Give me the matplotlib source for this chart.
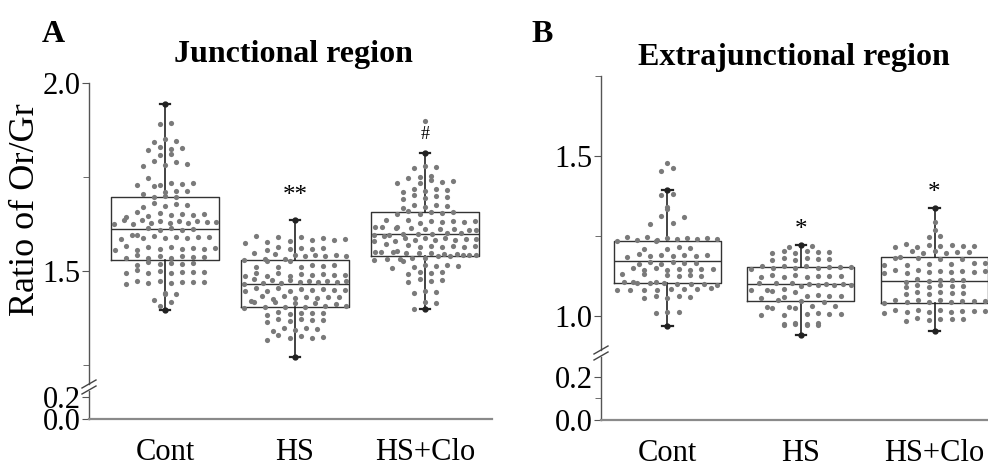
import numpy as np
import matplotlib
matplotlib.use("Agg")
import matplotlib.pyplot as plt
from matplotlib.lines import Line2D

plt.rcParams['font.family'] = ['Liberation Serif', 'DejaVu Serif']

groups = ["Cont", "HS", "HS+Clo"]

# Panel A - junctional region
a_cont = [1.943, 1.893, 1.890, 1.852, 1.846, 1.842, 1.830, 1.827, 1.825, 1.822,
          1.812, 1.808, 1.792, 1.789, 1.786, 1.783, 1.780, 1.748,
          1.735, 1.732, 1.730, 1.728, 1.726, 1.733, 1.712, 1.709, 1.706, 1.714,
          1.700, 1.698, 1.697, 1.680, 1.676, 1.672, 1.678, 1.670,
          1.655, 1.652, 1.648, 1.645, 1.658, 1.650, 1.646, 1.653,
          1.635, 1.632, 1.630, 1.628, 1.634, 1.626, 1.631, 1.629, 1.636, 1.627, 1.633, 1.625,
          1.615, 1.612, 1.610, 1.608, 1.614,
          1.595, 1.590, 1.588, 1.592, 1.585, 1.597, 1.593, 1.587, 1.591, 1.589,
          1.565, 1.560, 1.558, 1.562, 1.556, 1.563, 1.559, 1.566, 1.557, 1.561,
          1.540, 1.537, 1.535, 1.538, 1.542, 1.534, 1.539, 1.536,
          1.522, 1.518, 1.520, 1.524, 1.517, 1.521,
          1.500, 1.497, 1.495, 1.498, 1.502, 1.494, 1.499, 1.496,
          1.472, 1.470, 1.468, 1.474, 1.466, 1.471, 1.469, 1.473,
          1.442, 1.440, 1.438, 1.422, 1.418, 1.408, 1.396]
a_hs = [1.636, 1.592, 1.590, 1.588, 1.594, 1.586, 1.580, 1.578, 1.582, 1.576, 1.584,
        1.562, 1.560, 1.558, 1.564, 1.556, 1.561,
        1.545, 1.543, 1.541, 1.547, 1.539, 1.544, 1.542, 1.540,
        1.530, 1.528, 1.532, 1.527, 1.531,
        1.515, 1.512, 1.510, 1.516, 1.511, 1.513,
        1.492, 1.490, 1.488, 1.494, 1.486, 1.491, 1.489, 1.493, 1.487, 1.495,
        1.475, 1.473, 1.471, 1.477, 1.469, 1.474, 1.472, 1.470, 1.476, 1.468, 1.478, 1.467,
        1.452, 1.450, 1.448, 1.454, 1.446, 1.451, 1.449, 1.453, 1.447, 1.455,
        1.432, 1.430, 1.428, 1.434, 1.426, 1.431, 1.429, 1.433,
        1.418, 1.416, 1.414, 1.420, 1.412, 1.417, 1.405, 1.404, 1.406, 1.403, 1.407, 1.405,
        1.390, 1.388, 1.386, 1.392, 1.384, 1.389,
        1.372, 1.370, 1.368, 1.374, 1.366, 1.371,
        1.348, 1.346, 1.344, 1.350, 1.342,
        1.327, 1.325, 1.323, 1.329, 1.321, 1.318, 1.272]
a_clo = [1.900, 1.813, 1.779, 1.777, 1.775, 1.752, 1.750, 1.748,
         1.739, 1.737, 1.735, 1.741, 1.733, 1.717, 1.715, 1.713, 1.719, 1.711,
         1.699, 1.697, 1.695, 1.701, 1.693, 1.675, 1.673, 1.671, 1.677, 1.669,
         1.657, 1.655, 1.653, 1.659, 1.651, 1.656,
         1.635, 1.633, 1.631, 1.637, 1.629, 1.634, 1.632, 1.630,
         1.616, 1.614, 1.612, 1.618, 1.610, 1.615, 1.613, 1.611, 1.617, 1.609,
         1.600, 1.598, 1.596, 1.602, 1.594, 1.599, 1.597, 1.601,
         1.587, 1.585, 1.583, 1.589, 1.581, 1.586, 1.584, 1.582, 1.588, 1.580,
         1.569, 1.567, 1.565, 1.571, 1.563, 1.568, 1.566, 1.564,
         1.550, 1.548, 1.546, 1.552, 1.544, 1.549, 1.547, 1.545, 1.551, 1.543, 1.541, 1.540, 1.542, 1.553,
         1.534, 1.532, 1.530, 1.536, 1.528, 1.533,
         1.515, 1.513, 1.511, 1.517, 1.509, 1.514,
         1.499, 1.497, 1.495, 1.493, 1.478, 1.476, 1.474, 1.472,
         1.446, 1.444, 1.442, 1.419, 1.415, 1.399]

# Panel B - extrajunctional region
b_cont = [1.477, 1.463, 1.453, 1.394, 1.382, 1.378, 1.340, 1.336, 1.312, 1.308, 1.292, 1.288,
          1.245, 1.243, 1.241, 1.247, 1.239, 1.244, 1.242, 1.240, 1.246, 1.238, 1.235, 1.233,
          1.215, 1.213, 1.211, 1.209,
          1.192, 1.190, 1.188, 1.194, 1.186, 1.191, 1.189, 1.187,
          1.168, 1.166, 1.164, 1.170, 1.162, 1.167,
          1.149, 1.147, 1.145, 1.151, 1.143, 1.148, 1.146, 1.144,
          1.130, 1.128, 1.126, 1.132, 1.124, 1.129,
          1.105, 1.103, 1.101, 1.107, 1.099, 1.104, 1.102, 1.100, 1.106, 1.098,
          1.086, 1.084, 1.082, 1.088, 1.080, 1.085, 1.083, 1.081,
          1.062, 1.060, 1.058, 1.064, 1.056,
          1.014, 1.012, 1.010, 0.970]
b_hs = [1.222, 1.218, 1.216, 1.202, 1.200, 1.198, 1.204, 1.196, 1.201,
        1.180, 1.178, 1.176, 1.182, 1.174, 1.179,
        1.155, 1.153, 1.151, 1.157, 1.149, 1.154, 1.152, 1.150, 1.156, 1.148,
        1.127, 1.125, 1.123, 1.129, 1.121, 1.126, 1.124, 1.122,
        1.102, 1.100, 1.098, 1.104, 1.096, 1.101, 1.099, 1.097, 1.103, 1.095,
        1.082, 1.080, 1.078, 1.084, 1.076,
        1.064, 1.062, 1.060, 1.066, 1.058, 1.063,
        1.049, 1.047, 1.045,
        1.030, 1.028, 1.026, 1.032, 1.024, 1.029,
        1.008, 1.006, 1.004, 1.010, 1.002, 1.007,
        0.977, 0.975, 0.973, 0.979, 0.971, 0.976, 0.974, 0.972, 0.940]
b_clo = [1.337, 1.295, 1.270, 1.250, 1.246,
         1.222, 1.220, 1.218, 1.224, 1.216, 1.221, 1.219, 1.217,
         1.202, 1.200, 1.198, 1.204, 1.196, 1.201,
         1.182, 1.180, 1.178, 1.184, 1.179,
         1.165, 1.163, 1.161, 1.167, 1.159, 1.164,
         1.142, 1.140, 1.138, 1.144, 1.136, 1.141, 1.139, 1.137, 1.143, 1.135,
         1.114, 1.112, 1.110, 1.116, 1.108, 1.113,
         1.096, 1.094, 1.092, 1.098, 1.090, 1.095,
         1.074, 1.072, 1.070, 1.076, 1.068, 1.073,
         1.049, 1.047, 1.045, 1.051, 1.043, 1.048, 1.046, 1.044, 1.050, 1.042,
         1.018, 1.016, 1.014, 1.020, 1.012, 1.017, 1.015, 1.013, 1.019, 1.011,
         0.992, 0.990, 0.988, 0.994, 0.986, 0.991, 0.953]

# box statistics: (whislo, q1, med, q3, whishi)
a_stats = [(1.396, 1.529, 1.612, 1.697, 1.943),
           (1.272, 1.404, 1.465, 1.529, 1.636),
           (1.399, 1.541, 1.600, 1.657, 1.813)]
b_stats = [(0.970, 1.103, 1.172, 1.234, 1.394),
           (0.940, 1.047, 1.101, 1.153, 1.222),
           (0.953, 1.040, 1.111, 1.184, 1.337)]

a_marks = ["", "**", "#"]
a_mark_y = [0, 1.700, 1.862]
b_marks = ["", "*", "*"]
b_mark_y = [0, 1.268, 1.385]

W, H = 988, 468


def rect(l, t, r, b):
    return [l / W, 1 - b / H, (r - l) / W, (b - t) / H]


def swarm(vals, dy, dx, maxw):
    v = np.array(vals)
    order = np.argsort(v)
    bins = np.round(v[order] / dy)
    off = np.zeros(len(v))
    for b in np.unique(bins):
        idx = order[bins == b]
        n = len(idx)
        step = min(dx, maxw / max(n - 1, 1))
        pos = (np.arange(n) - (n - 1) / 2) * step
        # interleave so neighbours in value sit on opposite sides
        pos = np.concatenate([pos[0::2], pos[1::2][::-1]])
        off[idx] = pos
    return off


def panel(up, lo, data, stats, marks, mark_y, width, dy, ms):
    x = np.arange(len(groups))
    bxp_stats = []
    for s in stats:
        bxp_stats.append(dict(whislo=s[0], q1=s[1], med=s[2], q3=s[3], whishi=s[4], fliers=[]))
    up.bxp(bxp_stats, positions=x, widths=width, showfliers=False,
           boxprops=dict(color='#333333', lw=1.0),
           medianprops=dict(color='#333333', lw=1.0),
           whiskerprops=dict(color='#222222', lw=1.2),
           capprops=dict(color='#222222', lw=1.6), capwidths=0.08)
    for i, vals in enumerate(data):
        off = swarm(vals, dy, 0.085, width * 0.94)
        up.scatter(x[i] + off, vals, s=ms, color='#7a7a7a', lw=0, zorder=3)
        up.plot([x[i]], [stats[i][0]], 'o', color='#222222', ms=3.5, zorder=4)
        up.plot([x[i]], [stats[i][4]], 'o', color='#222222', ms=3.5, zorder=4)
        if marks[i]:
            fs = 13 if marks[i] == "#" else 18
            up.text(x[i], mark_y[i], marks[i], ha='center', va='center', fontsize=fs)
    for ax in (up, lo):
        for sp in ('top', 'right'):
            ax.spines[sp].set_visible(False)
        ax.spines['left'].set_color('#555555')
        ax.spines['left'].set_linewidth(1.0)
        ax.tick_params(axis='y', which='both', direction='out', color='#555555',
                       labelsize=22, pad=1)
        ax.tick_params(axis='y', which='major', length=5)
        ax.tick_params(axis='y', which='minor', length=4)
    up.spines['bottom'].set_visible(False)
    up.tick_params(axis='x', bottom=False, labelbottom=False)
    lo.spines['bottom'].set_color('#8a8a8a')
    lo.spines['bottom'].set_linewidth(1.6)
    lo.set_xticks(x)
    lo.set_xticklabels(groups)
    lo.tick_params(axis='x', length=0, labelsize=22, pad=14)
    lo.set_facecolor('none')
    up.set_facecolor('none')


fig = plt.figure(figsize=(W / 100, H / 100), dpi=100)

axa = fig.add_axes(rect(89, 83, 492, 384))
axa_lo = fig.add_axes(rect(89, 391, 492, 419))
axb = fig.add_axes(rect(601, 76, 988, 350))
axb_lo = fig.add_axes(rect(601, 357, 988, 420))

panel(axa, axa_lo, [a_cont, a_hs, a_clo], a_stats, a_marks, a_mark_y, 0.83, 0.022, 14)
panel(axb, axb_lo, [b_cont, b_hs, b_clo], b_stats, b_marks, b_mark_y, 0.80, 0.026, 14)

axa.set_xlim(-0.585, 2.515)
axa_lo.set_xlim(-0.585, 2.515)
axa.set_ylim(1.2, 2.0)
axa.set_yticks([1.5, 2.0])
axa.set_yticks([1.25, 1.75], minor=True)
axa.set_yticklabels(["1.5", "2.0"])
axa_lo.set_ylim(0, 0.255)
axa_lo.set_yticks([0.0, 0.2])
axa_lo.set_yticklabels(["0.0", "0.2"])

axb.set_xlim(-0.495, 2.40)
axb_lo.set_xlim(-0.495, 2.40)
axb.set_ylim(0.894, 1.75)
axb.set_yticks([1.0, 1.5])
axb.set_yticks([1.25, 1.75], minor=True)
axb.set_yticklabels(["1.0", "1.5"])
axb_lo.set_ylim(0, 0.293)
axb_lo.set_yticks([0.0, 0.2])
axb_lo.set_yticks([0.1], minor=True)
axb_lo.set_yticklabels(["0.0", "0.2"])

# axis break marks
for x0, y0 in [(89, 387), (601, 353)]:
    for dyy in (-3, 3):
        fig.add_artist(Line2D([(x0 - 7) / W, (x0 + 7) / W],
                              [1 - (y0 + dyy + 4) / H, 1 - (y0 + dyy - 4) / H],
                              color='#444444', lw=1.0))

fig.text(25 / W, 1 - 210 / H, "Ratio of Or/Gr", rotation=90, ha='center', va='center', fontsize=26)
fig.text(42 / W, 1 - 42 / H, "A", fontsize=23, fontweight='bold', ha='left', va='baseline')
fig.text(531 / W, 1 - 42 / H, "B", fontsize=23, fontweight='bold', ha='left', va='baseline')
fig.text(293 / W, 1 - 62 / H, "Junctional region", fontsize=23, fontweight='bold', ha='center', va='baseline')
fig.text(794 / W, 1 - 65 / H, "Extrajunctional region", fontsize=23, fontweight='bold', ha='center', va='baseline')

fig.savefig("out.png", dpi=100)
